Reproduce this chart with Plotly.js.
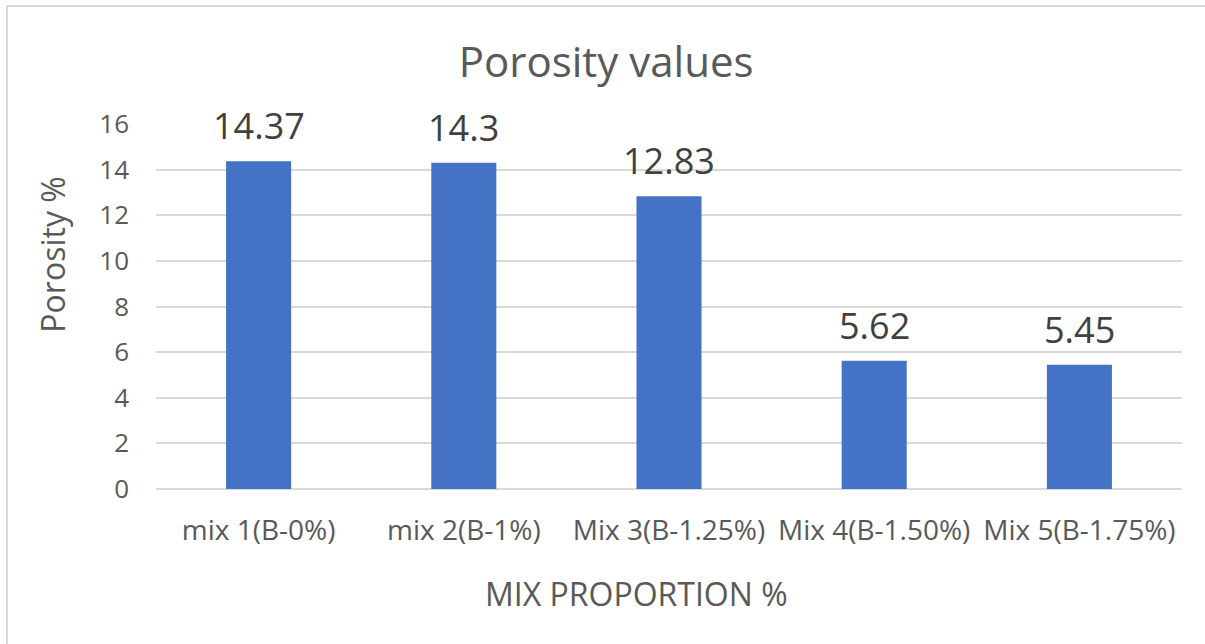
<!DOCTYPE html>
<html>
<head>
<meta charset="utf-8">
<script src="https://cdn.plot.ly/plotly-3.0.1.min.js"></script>
<style>
html,body{margin:0;padding:0;background:#fff;overflow:hidden;width:1205px;height:644px;}
#frame{position:absolute;left:6px;top:5px;width:1400px;height:800px;border:2px solid #d9d9d9;box-sizing:border-box;}
#chart{position:absolute;left:0;top:0;width:1205px;height:644px;}
</style>
</head>
<body>
<div id="frame"></div>
<div id="chart"></div>
<script>
const categories = ["mix 1(B-0%)", "mix 2(B-1%)", "Mix 3(B-1.25%)", "Mix 4(B-1.50%)", "Mix 5(B-1.75%)"];
const porosity = [14.37, 14.3, 12.83, 5.62, 5.45];
const labels = ["14.37", "14.3", "12.83", "5.62", "5.45"];
const yTicks = [0, 2, 4, 6, 8, 10, 12, 14, 16];

const fontFam = "Open Sans, sans-serif";
const trace = {
  type: "bar",
  x: categories,
  y: porosity,
  marker: {color: "#4472C4"},
  hoverinfo: "none"
};
const annotations = categories.map((c, i) => ({
  x: c, y: porosity[i], xref: "x", yref: "y",
  text: labels[i], showarrow: false,
  yanchor: "bottom", yshift: 9,
  font: {family: fontFam, size: 36, color: "#404040"}
}));
annotations.push({
  xref: "paper", yref: "paper", x: 0.468, y: -0.285, xanchor: "center", yanchor: "middle",
  text: "MIX PROPORTION %", showarrow: false,
  font: {family: fontFam, size: 32, color: "#595959"}
});
annotations.push({
  xref: "paper", yref: "paper", x: -0.101, y: 0.643, xanchor: "center", yanchor: "middle",
  text: "Porosity %", textangle: -90, showarrow: false,
  font: {family: fontFam, size: 32, color: "#595959"}
});
const layout = {
  width: 1205, height: 644,
  paper_bgcolor: "rgba(0,0,0,0)", plot_bgcolor: "rgba(0,0,0,0)",
  margin: {l: 156, r: 23, t: 124, b: 155},
  bargap: 0.683,
  showlegend: false,
  title: {text: "Porosity values", x: 0.503, xanchor: "center", y: 0.904, yanchor: "middle",
          font: {family: fontFam, size: 42, color: "#595959"}},
  xaxis: {
    type: "category",
    tickfont: {family: fontFam, size: 28, color: "#595959"},
    ticklabelstandoff: 22,
    showgrid: false, zeroline: false, showline: false, ticks: ""
  },
  yaxis: {
    range: [0, 16], tickvals: yTicks, ticktext: yTicks.map(String),
    tickfont: {family: fontFam, size: 26, color: "#595959"},
    ticklabelstandoff: 26,
    showgrid: true, gridcolor: "#d9d9d9", gridwidth: 2,
    zeroline: true, zerolinecolor: "#d9d9d9", zerolinewidth: 2,
    showline: false, ticks: ""
  },
  annotations: annotations
};
Plotly.newPlot("chart", [trace], layout, {staticPlot: true, displayModeBar: false});
</script>
</body>
</html>
